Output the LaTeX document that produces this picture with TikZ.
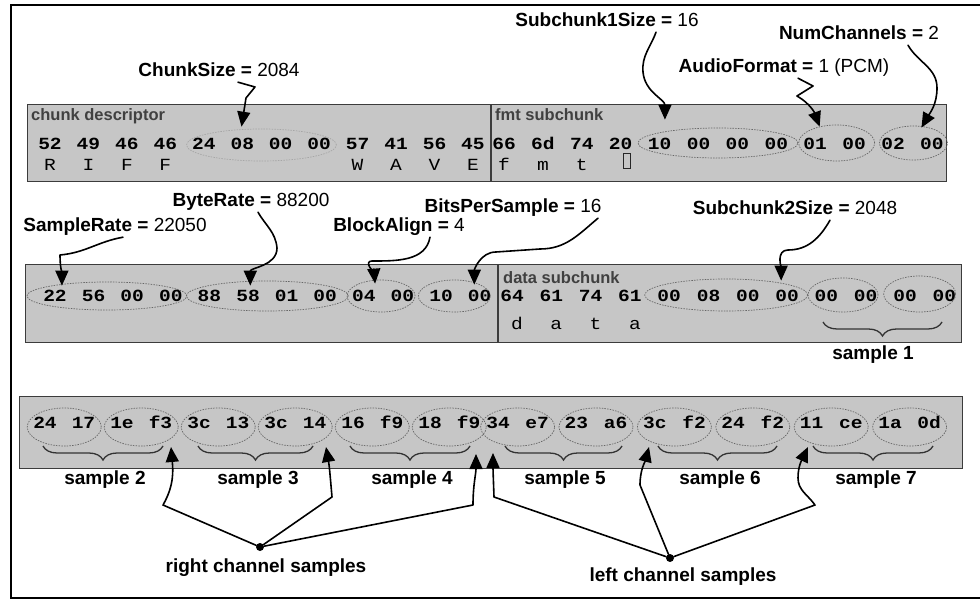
\documentclass[tikz,border=0pt]{standalone}
\usepackage{fontspec}
\setmainfont{Liberation Sans}
\newfontfamily\hexfont[FakeStretch=1.15]{Liberation Mono}
\usetikzlibrary{arrows.meta,shapes.geometric,decorations.pathreplacing,calc}
\definecolor{stripfill}{RGB}{198,198,198}
\definecolor{stripedge}{RGB}{60,60,60}
\begin{document}
\begin{tikzpicture}[x=1pt,y=1pt,
  strip/.style={fill=stripfill, draw=stripedge, line width=1pt},
  divider/.style={draw=stripedge, line width=1.8pt},
  byte/.style={font=\hexfont\bfseries\fontsize{17}{17}\selectfont, text height=11pt, text depth=0pt, inner sep=0pt},
  chr/.style={font=\hexfont\fontsize{17}{17}\selectfont, anchor=base, inner sep=0pt},
  hdr/.style={font=\bfseries\fontsize{16.5}{16.5}\selectfont, text=black!75, anchor=west, inner sep=0pt},
  lbl/.style={font=\fontsize{19}{22}\selectfont, text height=14pt, text depth=4pt, inner sep=1pt},
  smp/.style={font=\bfseries\fontsize{19}{22}\selectfont, inner sep=1pt},
  grp/.style={ellipse, draw=black!60, dash pattern=on 1.5pt off 1.2pt, line width=0.7pt, inner sep=0pt},
  arr/.style={line width=1.6pt, line cap=round, line join=round, -{Triangle[length=15pt,width=13pt]}},
  brc/.style={decorate, decoration={brace, mirror, amplitude=14pt}, line width=1.3pt, draw=black!80},
  dot/.style={circle, fill=black, inner sep=0pt, minimum size=8pt},
]
\useasboundingbox (0,0) rectangle (980,-601);
\fill[white] (0,0) rectangle (980,-601);

% outer frame
\draw[line width=1.6pt] (980,-5) -- (11,-5) -- (11,-598) -- (980,-598);

% the three byte strips
\draw[strip] (27,-105) rectangle (946,-182);
\draw[divider] (491,-105) -- (491,-182);
\draw[strip] (25,-265) rectangle (961,-343);
\draw[divider] (498,-265) -- (498,-343);
\draw[strip] (19,-397) rectangle (962,-468);

% strip headers
\node[hdr] (h-riff) at (31,-116) {chunk descriptor};
\node[hdr] (h-fmt) at (495,-115) {fmt subchunk};
\node[hdr] (h-data) at (503,-278) {data subchunk};

% bytes, row 1
\foreach \b [count=\i] in {52,49,46,46,24,08,00,00,57,41,56,45}
  \node[byte] (r1a-\i) at ({50+(\i-1)*38.45},-144) {\b};
\foreach \b [count=\i] in {66,6d,74,20,10,00,00,00,01,00,02,00}
  \node[byte] (r1b-\i) at ({504+(\i-1)*38.9},-144) {\b};
% bytes, row 2
\foreach \b [count=\i] in {22,56,00,00,88,58,01,00,04,00,10,00}
  \node[byte] (r2a-\i) at ({55+(\i-1)*38.6},-296) {\b};
\foreach \b [count=\i] in {64,61,74,61,00,08,00,00,00,00,00,00}
  \node[byte] (r2b-\i) at ({512+(\i-1)*39.3},-296) {\b};
% bytes, row 3
\foreach \b [count=\i] in {24,17,1e,f3,3c,13,3c,14,16,f9,18,f9}
  \node[byte] (r3a-\i) at ({45+(\i-1)*38.5},-423) {\b};
\foreach \b [count=\i] in {34,e7,23,a6,3c,f2,24,f2,11,ce,1a,0d}
  \node[byte] (r3b-\i) at ({498+(\i-1)*39.2},-423) {\b};

% ASCII characters under the ids
\foreach \c [count=\i] in {R,I,F,F}
  \node[chr] (c-riff-\i) at ($(r1a-\i)+(0,-27)$) {\c};
\foreach \c [count=\i from 9] in {W,A,V,E}
  \node[chr] (c-wave-\i) at ($(r1a-\i)+(0,-27)$) {\c};
\foreach \c [count=\i] in {f,m,t}
  \node[chr] (c-fmt-\i) at ($(r1b-\i)+(0,-27)$) {\c};
\node[draw=black!85, line width=0.8pt, minimum width=7pt, minimum height=15pt, inner sep=0pt]
  (c-fmt-4) at ($(r1b-4)+(6,-17)$) {};
\foreach \c [count=\i] in {d,a,t,a}
  \node[chr] (c-data-\i) at ($(r2b-\i)+(5,-34)$) {\c};

% field groups
\node[grp, draw=black!35, minimum width=150pt, minimum height=32pt] (g-cs) at ($(r1a-5)!.5!(r1a-8)+(0,-1)$) {};
\node[grp, minimum width=160pt, minimum height=30pt] (g-s1) at ($(r1b-5)!.5!(r1b-8)+(0,1)$) {};
\node[grp, minimum width=76pt, minimum height=36pt] (g-af) at ($(r1b-9)!.5!(r1b-10)+(2,1)$) {};
\node[grp, minimum width=68pt, minimum height=34pt] (g-nc) at ($(r1b-11)!.5!(r1b-12)+(1,1)$) {};
\node[grp, minimum width=160pt, minimum height=28pt] (g-sr) at ($(r2a-1)!.5!(r2a-4)+(-6,0)$) {};
\node[grp, minimum width=162pt, minimum height=30pt] (g-br) at ($(r2a-5)!.5!(r2a-8)$) {};
\node[grp, minimum width=68pt, minimum height=32pt] (g-ba) at ($(r2a-9)!.5!(r2a-10)+(-2,0)$) {};
\node[grp, minimum width=72pt, minimum height=32pt] (g-bps) at ($(r2a-11)!.5!(r2a-12)+(-6,0)$) {};
\node[grp, minimum width=163pt, minimum height=32pt] (g-s2) at ($(r2b-5)!.5!(r2b-8)+(-2,1)$) {};
\node[grp, minimum width=70pt, minimum height=34pt] (g-d1) at ($(r2b-9)!.5!(r2b-10)+(-3,1)$) {};
\node[grp, minimum width=72pt, minimum height=36pt] (g-d2) at ($(r2b-11)!.5!(r2b-12)+(-5,2)$) {};
\foreach \p in {1,...,6} {
  \pgfmathtruncatemacro\q{2*\p-1}
  \pgfmathtruncatemacro\r{2*\p}
  \node[grp, minimum width=74pt, minimum height=38pt] (p3a-\p) at ($(r3a-\q)!.5!(r3a-\r)+(0,-4)$) {};
  \node[grp, minimum width=74pt, minimum height=38pt] (p3b-\p) at ($(r3b-\q)!.5!(r3b-\r)+(0,-4)$) {};
}

% samples
\draw[brc] (823,-322) -- (942,-322);
\node[smp] (s-1) at (873,-355) {sample 1};
\draw[brc] (43,-446) -- (163,-446);
\draw[brc] (198,-446) -- (313,-446);
\draw[brc] (350,-446) -- (470,-446);
\draw[brc] (505,-446) -- (622,-446);
\draw[brc] (658,-446) -- (777,-446);
\draw[brc] (813,-446) -- (933,-446);
\node[smp] (s-2) at (105,-480) {sample 2};
\node[smp] (s-3) at (258,-480) {sample 3};
\node[smp] (s-4) at (412,-480) {sample 4};
\node[smp] (s-5) at (565,-480) {sample 5};
\node[smp] (s-6) at (720,-480) {sample 6};
\node[smp] (s-7) at (876,-480) {sample 7};

% field labels
\node[lbl] (cs) at (219,-72) {\textbf{ChunkSize =} 2084};
\node[lbl] (s1) at (607,-22) {\textbf{Subchunk1Size =} 16};
\node[lbl] (nc) at (859,-35) {\textbf{NumChannels =} 2};
\node[lbl] (af) at (784,-68) {\textbf{AudioFormat =} 1 (PCM)};
\node[lbl] (sr) at (115,-227) {\textbf{SampleRate =} 22050};
\node[lbl] (br) at (251,-202) {\textbf{ByteRate =} 88200};
\node[lbl] (ba) at (399,-227) {\textbf{BlockAlign =} 4};
\node[lbl] (bps) at (513,-208) {\textbf{BitsPerSample =} 16};
\node[lbl] (s2) at (795,-210) {\textbf{Subchunk2Size =} 2048};

% arrow tips on the groups
\coordinate (t-cs) at ([xshift=-20pt,yshift=2pt]g-cs.north);
\coordinate (t-s1) at ([xshift=-53pt,yshift=8pt]g-s1.north);
\coordinate (t-af) at ([xshift=-17pt,yshift=-2pt]g-af.north);
\coordinate (t-nc) at ([xshift=8pt,yshift=-2pt]g-nc.north);
\coordinate (t-sr) at ([xshift=-45pt,yshift=-4pt]g-sr.north);
\coordinate (t-br) at ([xshift=-17pt,yshift=-5pt]g-br.north);
\coordinate (t-ba) at ([xshift=-6pt,yshift=-4pt]g-ba.north);
\coordinate (t-bps) at ([xshift=20pt,yshift=-5pt]g-bps.north);
\coordinate (t-s2) at ([xshift=55pt,yshift=-2pt]g-s2.north);

\draw[arr] ([xshift=19pt]cs.south) -- (255,-87) -- (246,-98) -- (t-cs);
\draw[arr] ([xshift=49pt]s1.south) to[out=-110,in=95] (643,-72) to[out=-85,in=90] (t-s1);
\draw[arr] ([xshift=14pt]af.south) -- (813,-86) -- (797,-96) to[out=-30,in=110] (t-af);
\draw[arr] ([xshift=49pt]nc.south) to[out=-60,in=90] (937,-88) to[out=-90,in=60] (t-nc);
\draw[arr] ([xshift=8pt]sr.south) to[out=190,in=5] (60,-255) to[out=-90,in=90] (t-sr);
\draw[arr] ([xshift=7pt]br.south) to[out=-60,in=95] (277,-248) to[out=-90,in=90] (t-br);
\draw[arr] ([xshift=31pt]ba.south) to[out=-100,in=0] (372,-261) to[out=180,in=95] (t-ba);
\draw[arr] ([xshift=85pt]bps.south) to[out=-140,in=0] (540,-249) -- (496,-252) to[out=180,in=90] (t-bps);
\draw[arr] ([xshift=35pt]s2.south) to[out=-120,in=0] (788,-250) to[out=180,in=90] (t-s2);

% channel markers
\node[dot] (rc) at (260,-547) {};
\node[dot] (lc) at (670,-558) {};
\node[smp] (rcl) at (266,-568) {right channel samples};
\node[smp] (lcl) at (683,-577) {left channel samples};

\coordinate (rt-1) at (171,-447);
\coordinate (rt-2) at (326,-447);
\coordinate (rt-3) at (476,-454);
\coordinate (lt-1) at (493,-453);
\coordinate (lt-2) at (649,-447);
\coordinate (lt-3) at (808,-447);

\draw[arr] (rc) -- (163,-505) to[out=60,in=-85] (rt-1);
\draw[arr] (rc) -- (332,-497) to[out=95,in=-80] (rt-2);
\draw[arr] (rc) -- (473,-505) to[out=90,in=-90] (rt-3);
\draw[arr] (lc) -- (494,-497) to[out=92,in=-90] (lt-1);
\draw[arr] (lc) -- (640,-485) to[out=90,in=-105] (lt-2);
\draw[arr] (lc) -- (815,-505) to[out=125,in=-90] (798,-478) to[out=90,in=-115] (lt-3);
\end{tikzpicture}
\end{document}
